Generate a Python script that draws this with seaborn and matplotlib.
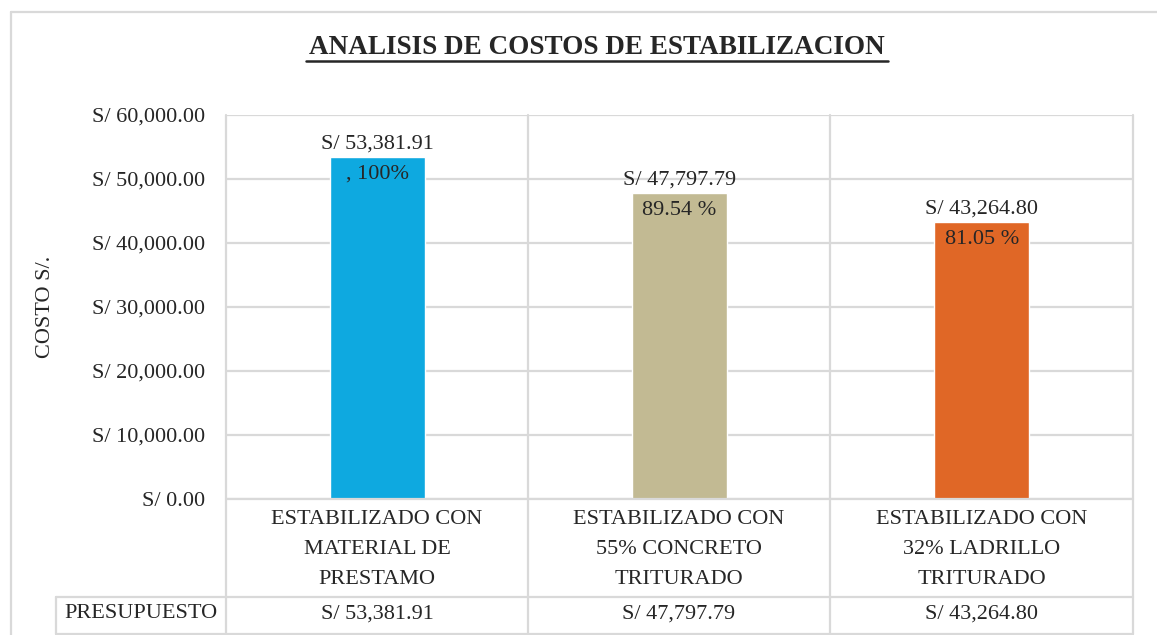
import numpy as np
import pandas as pd
import matplotlib
matplotlib.use("Agg")
import matplotlib.pyplot as plt
from matplotlib.lines import Line2D
import seaborn as sns

# Données
categorias = ["ESTABILIZADO CON\nMATERIAL DE\nPRESTAMO",
              "ESTABILIZADO CON\n55% CONCRETO\nTRITURADO",
              "ESTABILIZADO CON\n32% LADRILLO\nTRITURADO"]
costos = [53381.91, 47797.79, 43264.80]
porcentajes = [", 100%", "89.54 %", "81.05 %"]
colores = ["#0EA9E0", "#C2BA93", "#E06726"]
yticks = [0, 10000, 20000, 30000, 40000, 50000, 60000]

sns.set_theme(style="white")
plt.rcParams["font.family"] = ["Liberation Serif", "DejaVu Serif"]
TXT = "#262626"
GRIS = "#D9D9D9"
FS = 16

W, H = 1157, 635
fig = plt.figure(figsize=(W / 100, H / 100), dpi=100)


def fx(x):
    return x / W


def fy(y):
    return 1 - y / H


def linea(x0, y0, x1, y1, lw=1.6, color=GRIS):
    fig.add_artist(Line2D([fx(x0), fx(x1)], [fy(y0), fy(y1)], color=color, lw=lw))


# Zona del gráfico
x_izq, x_der, y_sup, y_inf = 226, 1133, 115, 499
ax = fig.add_axes([fx(x_izq), fy(y_inf), fx(x_der) - fx(x_izq), fy(y_sup) - fy(y_inf)])

df = pd.DataFrame({"cat": categorias, "costo": costos})
sns.barplot(data=df, x="cat", y="costo", hue="cat", palette=colores,
            width=0.315, legend=False, ax=ax, saturation=1)

ax.set_xlim(-0.5, 2.5)
ax.set_ylim(0, 60000)
ax.set_yticks(yticks)
ax.set_yticklabels([f"S/ {v:,.2f}" for v in yticks], fontsize=FS, color=TXT)
ax.set_xticks([])
ax.set_xlabel("")
ax.set_ylabel("")
ax.tick_params(axis="y", length=0, pad=15)
ax.yaxis.grid(True, color=GRIS, lw=1.6)
ax.set_axisbelow(True)
for s in ax.spines.values():
    s.set_visible(False)

# Etiquetas de datos
for i, (c, p) in enumerate(zip(costos, porcentajes)):
    ax.annotate(f"S/ {c:,.2f}", (i, c), xytext=(0, 13), textcoords="offset pixels",
                ha="center", va="center", fontsize=FS, color=TXT)
    ax.annotate(p, (i, c), xytext=(0, -17), textcoords="offset pixels",
                ha="center", va="center", fontsize=FS, color=TXT)

# Título
fig.text(fx(597), fy(47), "ANALISIS DE COSTOS DE ESTABILIZACION", ha="center", va="center",
         fontsize=19.5, fontweight="bold", color=TXT)
linea(306, 61, 888, 61, lw=1.8, color=TXT)

# Eje Y
fig.text(fx(45), fy(307), "COSTO S/.", rotation=90, ha="center", va="center",
         fontsize=FS, color=TXT)

# Marco exterior
linea(11, 12, W, 12)
linea(11, 12, 11, H)

# Tabla de datos
xs = [226, 528, 830, 1133]
for x in xs:
    linea(x, y_sup, x, 634)
linea(x_izq, y_inf, x_der, y_inf)
linea(56, 597, x_der, 597)
linea(56, 634, x_der, 634)
linea(56, 597, 56, 634)

for i, (cat, c) in enumerate(zip(categorias, costos)):
    xc = (xs[i] + xs[i + 1]) / 2
    for j, t in enumerate(cat.split("\n")):
        fig.text(fx(xc), fy(519 + 30 * j), t, ha="center", va="center",
                 fontsize=FS, color=TXT)
    fig.text(fx(xc), fy(614), f"S/ {c:,.2f}", ha="center", va="center",
             fontsize=FS, color=TXT)
fig.text(fx(141), fy(614), "PRESUPUESTO", ha="center", va="center", fontsize=FS, color=TXT)

plt.savefig("out.png", dpi=100)
